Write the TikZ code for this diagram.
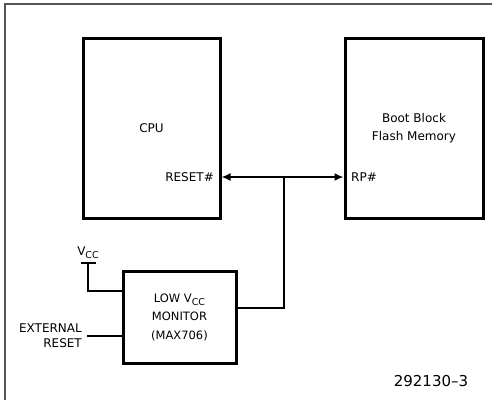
\documentclass[tikz,border=0pt]{standalone}
\usepackage{fontspec}
\setmainfont{DejaVu Sans}
\usetikzlibrary{arrows.meta,calc}
\definecolor{framegray}{HTML}{555555}
\newcommand{\vcc}{V\raisebox{-0.55ex}{\fontsize{9.5}{9.5}\selectfont CC}}

\begin{document}
\begin{tikzpicture}[x=1pt,y=-1pt,>={Latex[length=9pt,width=8pt]},font=\fontsize{12}{18}\selectfont,every node/.style={align=center,inner sep=0pt},
  block/.style={draw,line width=3pt},
  wire/.style={line width=1.6pt},
  pin/.style={font=\fontsize{12}{15}\selectfont}]
  \useasboundingbox (0,0) rectangle (492,400);
  \draw[framegray,line width=1.2pt] (5,400) -- (5,4) -- (492,4);
  \node[block,minimum width=137pt,minimum height=180pt] (cpu) at (151.5,128) {CPU};
  \node[block,minimum width=138pt,minimum height=180pt] (flash) at (414,128) {Boot Block\\Flash Memory};
  \node[block,minimum width=113pt,minimum height=92pt,font=\fontsize{11.5}{18.5}\selectfont] (monitor) at (179.5,317) {LOW \vcc\\MONITOR\\(MAX706)};
  \node[pin,anchor=east] (resetpin) at (214,177) {RESET\#};
  \node[pin,anchor=west] (rppin) at (351,177) {RP\#};
  \node[pin,anchor=south] (vcclabel) at (88,259) {\vcc};
  \node[pin,anchor=east,align=right] (extlabel) at (82,335.5) {EXTERNAL\\RESET};
  \node[font=\fontsize{15}{18}\selectfont] (fignum) at (431,381) {292130--3};
  \coordinate (junc) at (284,177);
  \coordinate (bend) at (284,308);
  \coordinate (vcc) at (88,263);
  \coordinate (vccbend) at (88,291);
  \coordinate (extin) at (87,336);
  \draw[wire,<->] (cpu.east |- junc) -- (flash.west |- junc);
  \draw[wire] (junc) -- (bend) -- (monitor.east |- bend);
  \draw[wire] ($(vcc)+(-7.5,0)$) -- ($(vcc)+(7.5,0)$);
  \draw[wire] (vcc) -- (vccbend) -- (monitor.west |- vccbend);
  \draw[wire] (extin) -- (monitor.west |- extin);
\end{tikzpicture}
\end{document}
